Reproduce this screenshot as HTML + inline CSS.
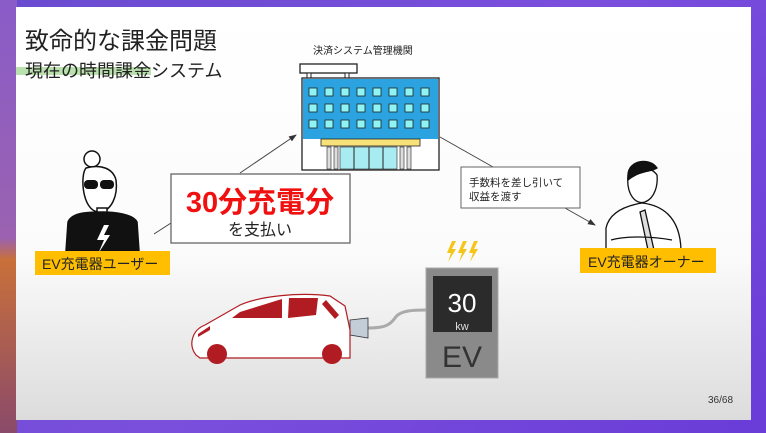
<!DOCTYPE html>
<html><head><meta charset="utf-8"><style>
body{margin:0;width:766px;height:433px;overflow:hidden;background:linear-gradient(135deg,#6a4bd0,#7a4fdc 50%,#6a3cd8);font-family:"Liberation Sans","Noto Sans CJK JP",sans-serif;}
</style></head><body>
<svg width="766" height="433" viewBox="0 0 766 433" xmlns="http://www.w3.org/2000/svg" style="position:absolute;left:0;top:0;font-family:'Liberation Sans','Noto Sans CJK JP',sans-serif">
<defs>
<linearGradient id="bg" x1="0" y1="0" x2="0" y2="1"><stop offset="0" stop-color="#fff"/><stop offset="0.6" stop-color="#fbfbfb"/><stop offset="1" stop-color="#dcdcdc"/></linearGradient>
<linearGradient id="lb" x1="0" y1="0" x2="0" y2="1"><stop offset="0" stop-color="#8a5cc8"/><stop offset="0.55" stop-color="#9a62b0"/><stop offset="0.6" stop-color="#c8703a"/><stop offset="1" stop-color="#8a4a6a"/></linearGradient>
<marker id="ar" markerWidth="8" markerHeight="8" refX="7" refY="4" orient="auto"><path d="M0,1 L8,4 L0,7 z" fill="#333"/></marker>
</defs>
<rect x="0" y="0" width="17" height="433" fill="url(#lb)"/>
<rect x="16" y="7" width="735" height="413" fill="url(#bg)"/>
<text x="25" y="49" font-size="24" fill="#222">致命的な課金問題</text>
<rect x="16" y="67" width="135" height="8" fill="#a9d89a" opacity="0.8"/>
<text x="25" y="77" font-size="18" fill="#222">現在の時間課金システム</text>
<text x="313" y="54" font-size="10" fill="#222">決済システム管理機関</text>
<!-- building -->
<rect x="300" y="64" width="57" height="9" fill="#fff" stroke="#222" stroke-width="1.3"/>
<rect x="307" y="73" width="4" height="5" fill="#fff" stroke="#222"/><rect x="345" y="73" width="4" height="5" fill="#fff" stroke="#222"/>
<rect x="302" y="78" width="137" height="92" fill="#fff" stroke="#222" stroke-width="1.3"/>
<rect x="303" y="79" width="135" height="60" fill="#2aa3e0"/>
<g fill="#8ff4f4" stroke="#222" stroke-width="0.8">
<rect x="309" y="88" width="8" height="8"/><rect x="325" y="88" width="8" height="8"/><rect x="341" y="88" width="8" height="8"/><rect x="357" y="88" width="8" height="8"/><rect x="373" y="88" width="8" height="8"/><rect x="389" y="88" width="8" height="8"/><rect x="405" y="88" width="8" height="8"/><rect x="421" y="88" width="8" height="8"/>
<rect x="309" y="104" width="8" height="8"/><rect x="325" y="104" width="8" height="8"/><rect x="341" y="104" width="8" height="8"/><rect x="357" y="104" width="8" height="8"/><rect x="373" y="104" width="8" height="8"/><rect x="389" y="104" width="8" height="8"/><rect x="405" y="104" width="8" height="8"/><rect x="421" y="104" width="8" height="8"/>
<rect x="309" y="120" width="8" height="8"/><rect x="325" y="120" width="8" height="8"/><rect x="341" y="120" width="8" height="8"/><rect x="357" y="120" width="8" height="8"/><rect x="373" y="120" width="8" height="8"/><rect x="389" y="120" width="8" height="8"/><rect x="405" y="120" width="8" height="8"/><rect x="421" y="120" width="8" height="8"/>
</g>
<rect x="321" y="139" width="99" height="7" fill="#f7e27a" stroke="#222" stroke-width="0.8"/>
<rect x="327" y="147" width="4" height="22" fill="#ddd" stroke="#222" stroke-width="0.6"/><rect x="334" y="147" width="4" height="22" fill="#ddd" stroke="#222" stroke-width="0.6"/>
<rect x="340" y="147" width="57" height="22" fill="#a8ecf2" stroke="#222" stroke-width="0.6"/>
<line x1="354" y1="147" x2="354" y2="169" stroke="#222"/><line x1="369" y1="147" x2="369" y2="169" stroke="#222"/><line x1="383" y1="147" x2="383" y2="169" stroke="#222"/>
<rect x="400" y="147" width="4" height="22" fill="#ddd" stroke="#222" stroke-width="0.6"/><rect x="407" y="147" width="4" height="22" fill="#ddd" stroke="#222" stroke-width="0.6"/>
<!-- connectors -->
<line x1="240" y1="173" x2="296" y2="135" stroke="#444" stroke-width="1" marker-end="url(#ar)"/>
<line x1="171" y1="223" x2="154" y2="234" stroke="#444" stroke-width="1"/>
<line x1="440" y1="137" x2="493" y2="167" stroke="#444" stroke-width="1"/>
<line x1="565" y1="208" x2="595" y2="225" stroke="#444" stroke-width="1" marker-end="url(#ar)"/>
<!-- box 30分 -->
<rect x="171" y="174" width="179" height="69" fill="#fff" stroke="#666" stroke-width="1.3"/>
<text x="260" y="212" font-size="29" font-weight="bold" fill="#f01010" text-anchor="middle">30分充電分</text>
<text x="260" y="235" font-size="16" fill="#222" text-anchor="middle">を支払い</text>
<rect x="461" y="167" width="119" height="41" fill="#fff" stroke="#666"/>
<text x="469" y="186" font-size="10.5" fill="#222">手数料を差し引いて</text>
<text x="469" y="200" font-size="10.5" fill="#222">収益を渡す</text>
<!-- woman -->
<g stroke="#111" stroke-width="1.5" fill="#fff">
<circle cx="92" cy="159" r="8"/>
<path d="M86,168 C80,175 82,210 98,212 C112,212 118,195 116,180 C113,168 100,164 86,168 z"/>
<rect x="97" y="208" width="10" height="8"/>
<path d="M66,251 L68,222 C72,212 90,212 102,212 C114,212 133,214 137,222 L139,251 z" fill="#111"/>
<path d="M104,225 L97,240 L104,240 L98,254 L110,235 L104,235 L109,225 z" fill="#fff" stroke="none"/>
</g>
<rect x="84" y="180" width="14" height="9" rx="4" fill="#111"/><rect x="100" y="180" width="14" height="9" rx="4" fill="#111"/>
<rect x="35" y="251" width="135" height="24" fill="#ffbf00"/>
<text x="42" y="269" font-size="14" fill="#222">EV充電器ユーザー</text>
<!-- man -->
<g stroke="#111" stroke-width="1.3" fill="#fff">
<path d="M606,250 L606,228 C610,210 630,205 642,203 C660,205 680,215 681,250 z"/>
<path d="M628,175 C626,195 636,205 645,202 C655,198 658,185 657,175 C650,165 632,165 628,175 z"/>
<path d="M628,175 C628,160 650,157 657,168 C652,172 640,170 628,180 z" fill="#111"/>
<path d="M640,212 L648,250 L654,250 L645,210 z" fill="#ddd"/>
<path d="M611,240 C625,236 650,236 672,240" fill="none"/>
</g>
<rect x="580" y="248" width="136" height="25" fill="#ffbf00"/>
<text x="588" y="267" font-size="14" fill="#222">EV充電器オーナー</text>
<!-- lightning -->
<g fill="#f5c518">
<path d="M452,241 L447,253 L451,253 L448,262 L456,249 L452,249 L456,241 z"/>
<path d="M463,241 L458,253 L462,253 L459,262 L467,249 L463,249 L467,241 z"/>
<path d="M474,241 L469,253 L473,253 L470,262 L478,249 L474,249 L478,241 z"/>
</g>
<!-- charger -->
<path d="M368,328 C385,328 390,325 395,318 C400,310 415,310 426,310" fill="none" stroke="#aaa" stroke-width="3"/>
<rect x="426" y="268" width="72" height="110" fill="#8a8a8a" stroke="#aaa"/>
<rect x="433" y="276" width="59" height="56" fill="#2b2b2b"/>
<text x="462" y="312" font-size="26" fill="#fff" text-anchor="middle">30</text>
<text x="462" y="330" font-size="11" fill="#ddd" text-anchor="middle">kw</text>
<text x="462" y="367" font-size="30" fill="#333" text-anchor="middle">EV</text>
<!-- plug -->
<path d="M350,320 L368,318 L368,338 L350,335 z" fill="#c3cdd8" stroke="#333" stroke-width="0.8"/>
<!-- car -->
<g>
<path d="M196,355 C188,345 192,330 205,325 L240,305 C260,296 300,292 330,296 L345,306 L350,330 L350,358 L200,358 z" fill="#fff" stroke="#b01c22" stroke-width="1.2"/>
<path d="M240,312 L282,299 L282,318 L232,318 z" fill="#b01c22"/>
<path d="M289,298 L318,298 L316,315 L288,318 z" fill="#b01c22"/>
<path d="M326,300 L339,315 L335,319 L322,304 z" fill="#b01c22"/>
<path d="M198,334 L210,326 L210,330 L198,337 z" fill="#b01c22"/>
<circle cx="217" cy="354" r="10" fill="#b01c22"/>
<circle cx="332" cy="354" r="10" fill="#b01c22"/>
</g>
<text x="708" y="403" font-size="10" fill="#333">36/68</text>
</svg>
</body></html>
